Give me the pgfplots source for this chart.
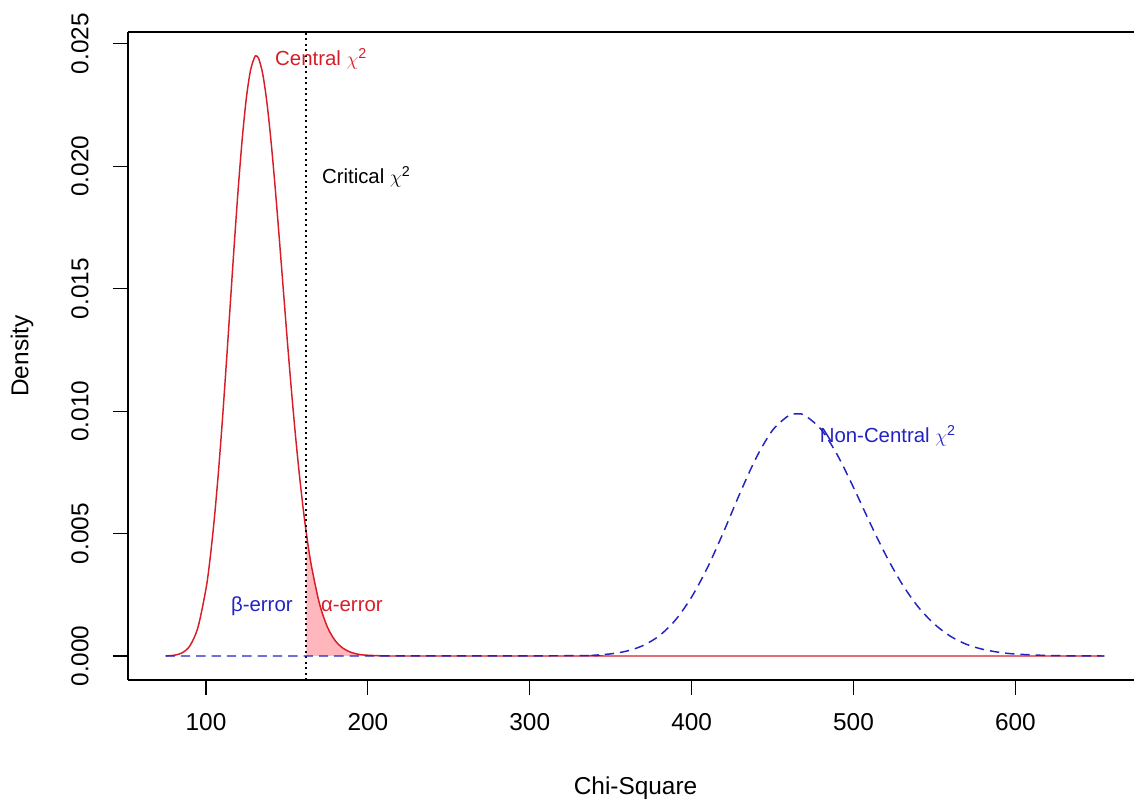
\documentclass[border=0pt]{standalone}
\usepackage{fontspec}
\setmainfont{Liberation Sans}
\usepackage{pgfplots}
\pgfplotsset{compat=1.18}
\definecolor{cred}{RGB}{215,30,40}
\definecolor{cblue}{RGB}{35,35,195}
\definecolor{cpink}{RGB}{255,182,188}

\begin{document}
\fontsize{18.3}{22}\selectfont%
\begin{tikzpicture}[lbl/.style={anchor=base west, inner sep=0pt, font=\fontsize{15.3}{18}\selectfont}]
\begin{axis}[
  scale only axis,
  width=754.5pt, height=486pt,
  xmin=51.8, xmax=673.26,
  ymin=-0.00098, ymax=0.02548,
  % the right side of the box is cut off in the reference
  axis y line*=left,
  xtick={100,200,300,400,500,600},
  xticklabels={100,200,300,400,500,600},
  ytick={0,0.005,0.01,0.015,0.02,0.025},
  yticklabels={0.000,0.005,0.010,0.015,0.020,0.025},
  scaled y ticks=false,
  xtick pos=bottom, ytick pos=left,
  tick align=outside,
  major tick length=11.25pt,
  tick style={black, line width=0.8pt},
  axis line style={line width=0.9pt, -},
  xticklabel style={anchor=center},
  xticklabel shift=20pt,
  yticklabel style={rotate=90, anchor=center},
  yticklabel shift=24.75pt,
  xlabel={Chi-Square},
  ylabel={Density},
  xlabel style={at={(axis description cs:0.5045,-0.1667)}, anchor=center},
  ylabel style={at={(axis description cs:-0.1054,0.5)}, anchor=center},
]
% alpha region
\addplot[fill=cpink, draw=none] coordinates {
  (162,0) (162,0.00501) (165,0.00372) (170,0.00216) (175,0.00118)
  (180,0.00061) (185,0.00030) (190,0.00014) (195,0.00006) (200,0.00003)
  (210,0.000005) (210,0)
};
% central chi-square, df about 133
\addplot[cred, line width=1.1pt, smooth] coordinates {
  (75,0.000005) (80,0.000027) (85,0.000119) (90,0.000411) (95,0.001166)
  (100,0.00275) (102.5,0.00397) (105,0.00552) (107.5,0.00738) (110,0.00953)
  (112.5,0.01190) (115,0.01438) (117.5,0.01686) (120,0.01918) (122.5,0.02121)
  (125,0.02283) (127.5,0.02392) (130,0.02445) (131,0.02450) (132.5,0.02440)
  (135,0.02378) (137.5,0.02266) (140,0.02113) (142.5,0.01930) (145,0.01727)
  (147.5,0.01517) (150,0.01306) (152.5,0.01105) (155,0.00919) (157.5,0.00751)
  (160,0.00603) (162,0.00501) (165,0.00372) (170,0.00216) (175,0.00118)
  (180,0.00061) (185,0.00030) (190,0.00014) (195,0.00006) (200,0.00003)
  (210,0.000005) (220,0) (400,0) (655,0)
};
% critical value
\addplot[black, line width=1.4pt, dash pattern=on 1.5pt off 2.6pt] coordinates {
  (162,-0.00098) (162,0.02548)
};
% non-central chi-square
\addplot[cblue, line width=1.1pt, dash pattern=on 7pt off 4.5pt, smooth] coordinates {
  (75,0) (200,0) (330,0.000012) (340,0.000034) (350,0.000087) (360,0.000202)
  (370,0.000427) (380,0.000825) (390,0.00147) (400,0.00241) (410,0.00364)
  (420,0.00511) (430,0.00667) (440,0.00811) (450,0.00922) (460,0.00982)
  (465,0.00989) (470,0.00982) (480,0.00925) (490,0.00821) (500,0.00688)
  (510,0.00546) (520,0.00411) (530,0.00294) (540,0.00200) (550,0.00130)
  (560,0.00080) (570,0.00047) (580,0.00027) (590,0.00015) (600,0.00008)
  (620,0.00002) (640,0.000004) (655,0)
};
\node[lbl, text=cred] at (axis cs:142.6,0.0241) {Central $\chi$\textsuperscript{2}};
\node[lbl, text=black] at (axis cs:171.5,0.0193) {Critical $\chi$\textsuperscript{2}};
\node[lbl, text=cblue] at (axis cs:479,0.0087) {Non-Central $\chi$\textsuperscript{2}};
\node[lbl, text=cblue] at (axis cs:115.3,0.0018) {β-error};
\node[lbl, text=cred] at (axis cs:170.9,0.0018) {α-error};
\end{axis}
\pgfresetboundingbox
\path (current axis.south west) ++(-96pt,-93.75pt) coordinate (bbA);
\path (current axis.north east) ++(0pt,24pt) coordinate (bbB);
\path (bbA) rectangle (bbB);
\end{tikzpicture}
\end{document}
